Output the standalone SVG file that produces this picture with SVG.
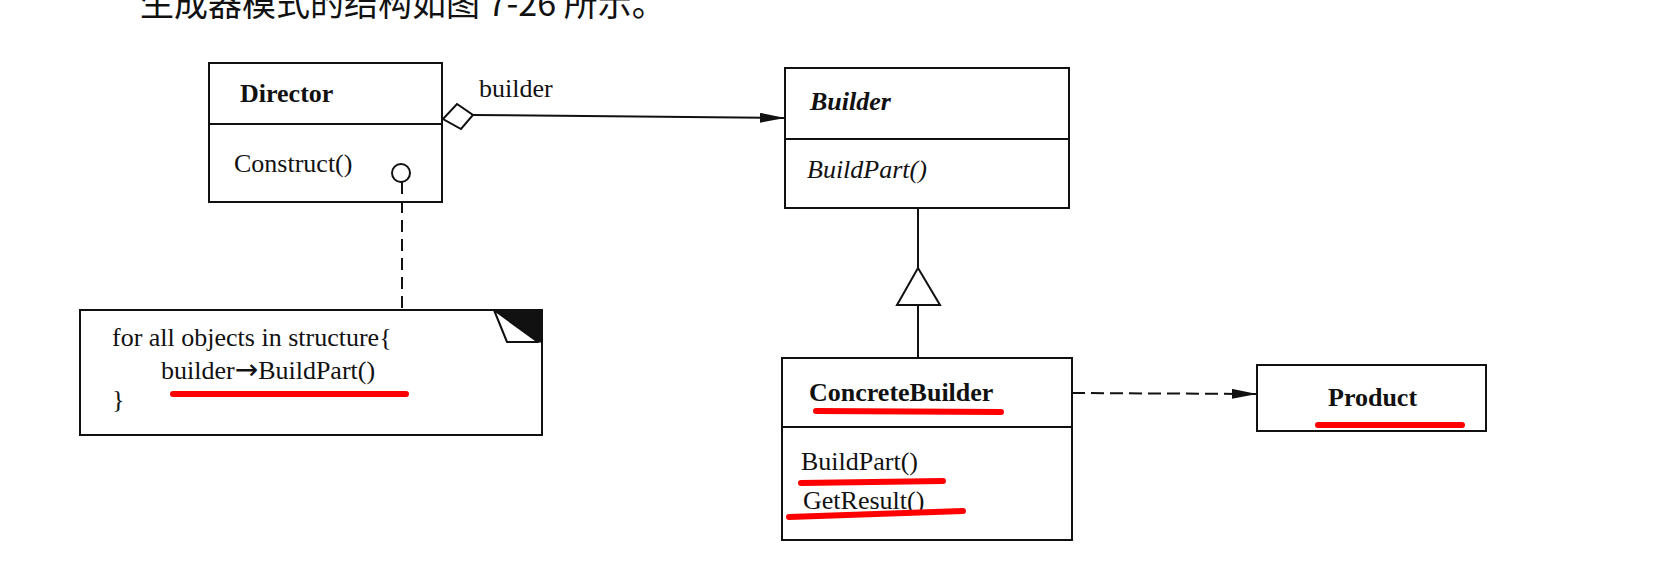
<svg xmlns="http://www.w3.org/2000/svg" width="1671" height="562" viewBox="0 0 1671 562">
  <style>
    .box { fill: #fff; stroke: #111; stroke-width: 2; }
    .ln { stroke: #111; stroke-width: 2; fill: none; }
    .dash { stroke: #111; stroke-width: 2; fill: none; stroke-dasharray: 13 6; }
    .t { font-family: "Liberation Serif", "Times New Roman", serif; font-size: 26px; fill: #111; }
    .b { font-weight: bold; }
    .i { font-style: italic; }
    .arr { font-family: "DejaVu Sans", sans-serif; font-size: 28px; }
    .cap { font-family: "Noto Sans CJK SC", "Noto Sans", sans-serif; font-size: 34px; fill: #111; }
    .red { stroke: #ff0000; stroke-width: 6; stroke-linecap: round; fill: none; }
  </style>
  <defs>
    <marker id="arrowFilled" markerUnits="userSpaceOnUse" markerWidth="25" markerHeight="10" refX="25" refY="5" orient="auto">
      <path d="M0,0 L25,5 L0,10 Z" fill="#111"/>
    </marker>
  </defs>
  <rect width="1671" height="562" fill="#fff"/>

  <g id="caption">
    <text class="cap" x="140" y="16">生成器模式的结构如图 7-26 所示。</text>
  </g>

  <g id="director">
    <rect class="box" x="209" y="63" width="233" height="139"/>
    <line class="ln" x1="209" y1="124" x2="442" y2="124"/>
    <text class="t b" x="240" y="102">Director</text>
    <text class="t" x="234" y="172">Construct()</text>
  </g>

  <g id="builder">
    <rect class="box" x="785" y="68" width="284" height="140"/>
    <line class="ln" x1="785" y1="139" x2="1069" y2="139"/>
    <text class="t b i" x="810" y="110">Builder</text>
    <text class="t i" x="807" y="178">BuildPart()</text>
  </g>

  <g id="concreteBuilder">
    <rect class="box" x="782" y="358" width="290" height="182"/>
    <line class="ln" x1="782" y1="427" x2="1072" y2="427"/>
    <text class="t b" x="809" y="401">ConcreteBuilder</text>
    <text class="t" x="801" y="470">BuildPart()</text>
    <text class="t" x="803" y="509">GetResult()</text>
  </g>

  <g id="product">
    <rect class="box" x="1257" y="365" width="229" height="66"/>
    <text class="t b" x="1328" y="406">Product</text>
  </g>

  <g id="note">
    <rect class="box" x="80" y="310" width="462" height="125"/>
    <polygon points="494,310 542,310 542,342 538,342" fill="#111" stroke="#111" stroke-width="1"/>
    <polygon points="494,310 507,342 538,342" fill="#fff" stroke="#111" stroke-width="2" stroke-linejoin="round"/>
    <text class="t" x="112" y="346">for all objects in structure{</text>
    <text class="t" x="161" y="379">builder<tspan class="arr">→</tspan>BuildPart()</text>
    <text class="t" x="112" y="408">}</text>
  </g>

  <g id="connectors">
    <!-- aggregation Director -> Builder -->
    <polygon points="443,119 457,104 473,115 461,129" fill="#fff" stroke="#111" stroke-width="2"/>
    <line class="ln" x1="473" y1="115" x2="785" y2="118" marker-end="url(#arrowFilled)"/>
    <text class="t" x="479" y="97">builder</text>
    <!-- note anchor -->
    <line class="ln" x1="402" y1="182" x2="402" y2="310" stroke-dasharray="12 7"/>
    <circle cx="401" cy="173" r="9" fill="#fff" stroke="#111" stroke-width="2"/>
    <!-- generalization -->
    <line class="ln" x1="918" y1="208" x2="918" y2="268"/>
    <polygon points="918,268 897,305 940,305" fill="#fff" stroke="#111" stroke-width="2"/>
    <line class="ln" x1="918" y1="305" x2="918" y2="358"/>
    <!-- dependency ConcreteBuilder -> Product -->
    <line class="dash" x1="1072" y1="393" x2="1257" y2="394" marker-end="url(#arrowFilled)"/>
  </g>

  <g id="highlights">
    <path class="red" d="M173,394 L406,394"/>
    <path class="red" d="M816,411 L1001,412"/>
    <path class="red" d="M1318,425 L1462,425"/>
    <path class="red" d="M801,483 L943,481"/>
    <path class="red" d="M789,517 Q880,514 963,511"/>
  </g>
</svg>
